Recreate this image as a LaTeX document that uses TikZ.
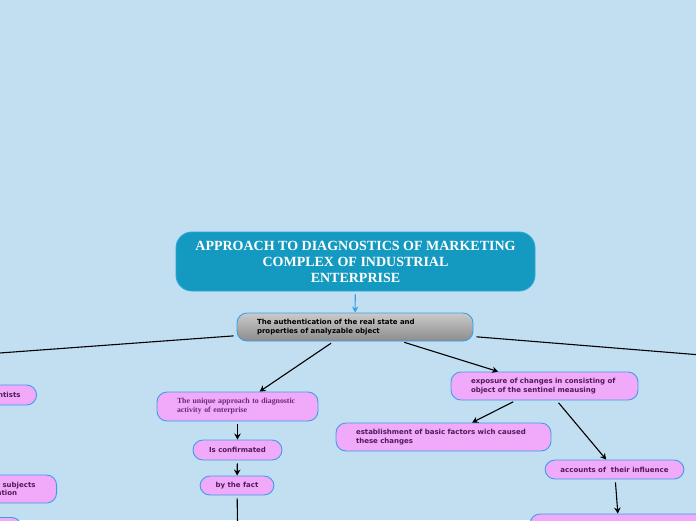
\documentclass[tikz,border=0pt]{standalone}
\usepackage{fontspec}
\setmainfont{Liberation Serif}
\newfontfamily\verd{DejaVu Sans}
\usetikzlibrary{positioning,arrows.meta}
\definecolor{bg}{HTML}{C2DFF1}
\definecolor{topic}{HTML}{1499C0}
\definecolor{topicrim}{HTML}{2AA6DA}
\definecolor{pink}{HTML}{F1A9F9}
\definecolor{rim}{HTML}{3C9FE6}
\definecolor{ink}{HTML}{4E1C56}
\definecolor{serifink}{HTML}{6A2A78}
\definecolor{greyhi}{HTML}{CACACA}
\definecolor{greylo}{HTML}{8C8C8C}

\begin{document}
\begin{tikzpicture}[x=1pt,y=-1pt,>={Stealth[length=6pt,width=6.5pt]},
    pill/.style={draw=rim,fill=pink,rounded corners=10pt,line width=0.9pt,text=ink,
      font=\verd\bfseries\fontsize{7}{8.5}\selectfont,inner sep=0pt},
    wide/.style={pill,align=left,inner xsep=20pt,text width=#1},
    link/.style={->,line width=1.1pt,shorten <=3pt}]
  \useasboundingbox (0,0) rectangle (696,520);
  \fill[bg] (0,0) rectangle (696,520);
  \clip (0,0) rectangle (696,520);

  \node[draw=topicrim,fill=topic,rounded corners=16pt,line width=0.9pt,text=white,
    font=\bfseries\fontsize{14}{16}\selectfont,align=center,
    minimum width=359pt,minimum height=59pt,inner sep=0pt] (title) at (355.5,261.5)
    {APPROACH TO DIAGNOSTICS OF MARKETING\\COMPLEX OF INDUSTRIAL\\ENTERPRISE};
  \node[wide=196pt,draw=rim,top color=greyhi,bottom color=greylo,text=black,
    minimum height=28pt] (auth) at (355,327)
    {The authentication of the real state and\\properties of analyzable object};

  \node[wide=121pt,minimum height=29pt,text=serifink,
    font=\rmfamily\bfseries\fontsize{7.8}{9}\selectfont] (unique) at (237.5,406.5)
    {The unique approach to diagnostic\\activity of enterprise};
  \node[pill,minimum width=89pt,minimum height=20pt] (confirm) at (237.5,450) {Is confirmated};
  \node[pill,minimum width=74pt,minimum height=19pt] (fact) at (237,485.5) {by the fact};

  \node[wide=147pt,minimum height=28pt] (expose) at (544.5,386)
    {exposure of changes in consisting of\\object of the sentinel meausing};
  \node[wide=175pt,minimum height=28pt] (factors) at (443.5,437)
    {establishment of basic factors wich caused\\these changes};
  \node[pill,minimum width=139pt,minimum height=19pt] (influence) at (614.5,469.5)
    {accounts of \ their influence};
  \node[pill,minimum width=178pt,minimum height=30pt] (impact) at (619,529) {};

  \node[pill,anchor=east,inner xsep=16pt,minimum height=20pt] (sci) at (37,395) {ntists};
  \node[pill,anchor=east,align=left,inner xsep=21pt,minimum height=28pt] (subj) at (57,489)
    {t subjects\\ation};
  \node[pill,anchor=north east,minimum width=60pt,minimum height=26pt] (low) at (22,517) {};

  \coordinate (westend) at (-200,367.6);
  \coordinate (eastend) at (900,371.1);
  \coordinate (down) at (238,560);

  \draw[->,draw=rim,line width=1.1pt,shorten <=3pt] (title) -- (auth);
  \path[link]
    (auth) edge (westend)
    (auth) edge (eastend)
    (auth) edge (unique)
    (auth) edge (expose)
    (unique) edge (confirm)
    (confirm) edge (fact)
    (fact) edge (down)
    (expose) edge (factors)
    (expose) edge (influence)
    (influence) edge (impact);
\end{tikzpicture}
\end{document}
